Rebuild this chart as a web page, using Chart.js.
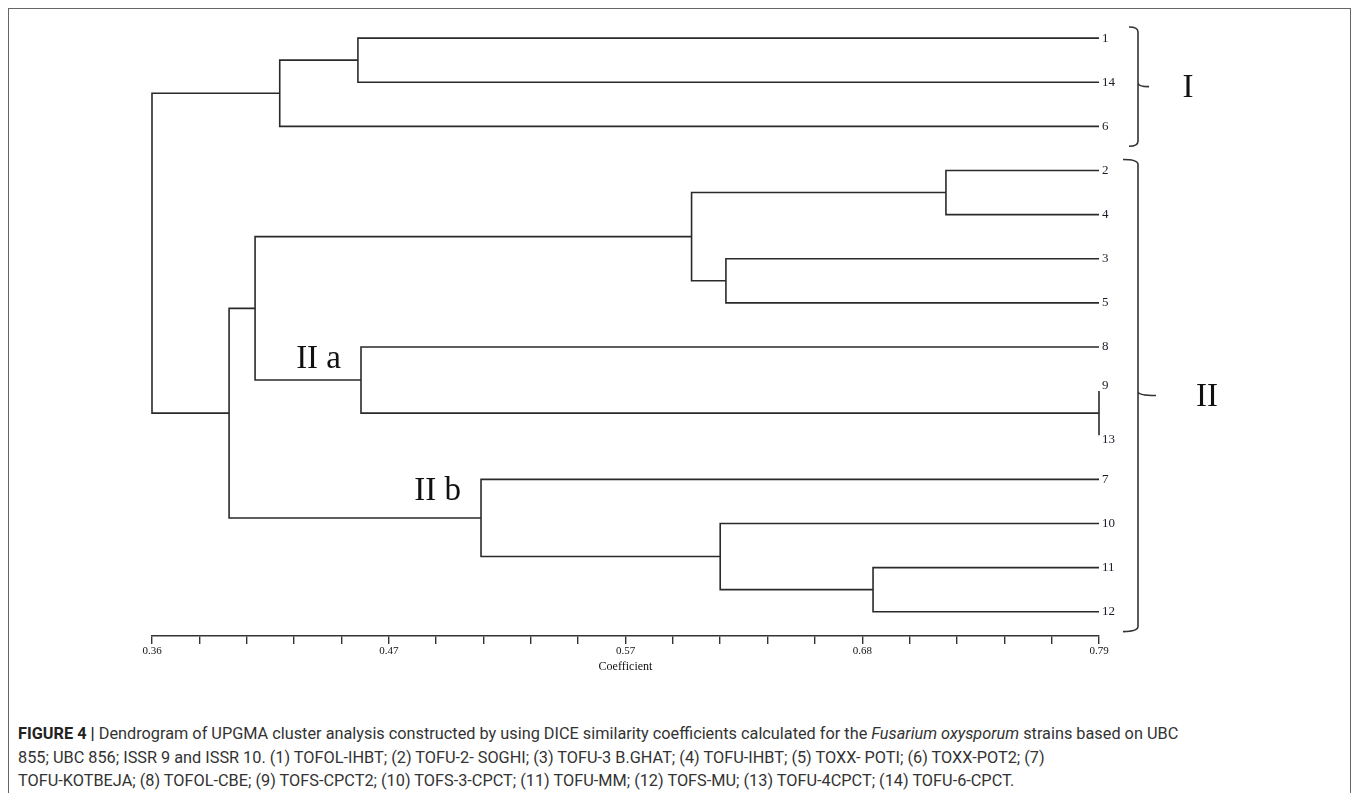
<!DOCTYPE html>
<html>
<head>
<meta charset="utf-8">
<script src="https://cdn.jsdelivr.net/npm/chart.js@4/dist/chart.umd.min.js"></script>
<style>
  html, body { margin: 0; padding: 0; background: #fff; }
  body { width: 1358px; height: 793px; position: relative; overflow: hidden; }
  #frame {
    position: absolute; left: 8px; top: 8px; width: 1341px; height: 820px;
    border: 1.5px solid #666; border-bottom: none;
  }
  #chartBox { position: absolute; left: 0; top: 0; width: 1358px; height: 700px; }
  #caption {
    position: absolute; left: 18px; top: 722px;
    font-family: Roboto, "Liberation Sans", sans-serif; font-size: 16.3px; line-height: 23.5px;
    color: #333; white-space: nowrap;
  }
  #caption b { color: #222; }
</style>
</head>
<body>
<div id="frame"></div>
<div id="chartBox"><canvas id="dendro" width="1358" height="700"></canvas></div>
<div id="caption">
<b>FIGURE 4 |</b> Dendrogram of UPGMA cluster analysis constructed by using DICE similarity coefficients calculated for the <i>Fusarium oxysporum</i> strains based on UBC<br>
855; UBC 856; ISSR 9 and ISSR 10. (1) TOFOL-IHBT; (2) TOFU-2- SOGHI; (3) TOFU-3 B.GHAT; (4) TOFU-IHBT; (5) TOXX- POTI; (6) TOXX-POT2; (7)<br>
TOFU-KOTBEJA; (8) TOFOL-CBE; (9) TOFS-CPCT2; (10) TOFS-3-CPCT; (11) TOFU-MM; (12) TOFS-MU; (13) TOFU-4CPCT; (14) TOFU-6-CPCT.
</div>
<script>
// leaves, top to bottom
var leafLabels = ['1', '14', '6', '2', '4', '3', '5', '8', '9', '13', '7', '10', '11', '12'];
var leafValue = 0.79;

// merges: ids 0-13 are leaves, merge k gets id 14 + k
var mergeLeft   = [0,      14,    3,      5,      16,    8,    7,      18,     12,     11,    10,     21,    15];
var mergeRight  = [1,      2,     4,      6,      17,    9,    19,     20,     13,     22,    23,     24,    25];
var mergeHeight = [0.4535, 0.418, 0.7205, 0.6206, 0.605, 0.79, 0.4549, 0.4068, 0.6874, 0.618, 0.5094, 0.395, 0.36];

// axis
var axisMin = 0.36, axisMax = 0.79;
var majorTicks = [0.36, 0.4675, 0.575, 0.6825, 0.79];
var tickLabels = ['0.36', '0.47', '0.57', '0.68', '0.79'];
var minorPerMajor = 5;

// clusters shown with brackets on the right
var groupNames = ['I', 'II'];
var groupFirst = [0, 3];
var groupLast  = [2, 13];

// sub-cluster labels next to their nodes (merge ids)
var subNames = ['II a', 'II b'];
var subNodes = [20, 24];

// position of every leaf / node
var nodeX = [], nodeY = [];
leafLabels.forEach(function(l, i) { nodeX[i] = leafValue; nodeY[i] = i; });
mergeHeight.forEach(function(h, k) {
    var id = 14 + k;
    nodeX[id] = h;
    nodeY[id] = (nodeY[mergeLeft[k]] + nodeY[mergeRight[k]]) / 2;
});

var lineColor = '#2a2a2a';
var datasets = mergeHeight.map(function(h, k) {
    var a = mergeLeft[k], b = mergeRight[k];
    return {
        data: [
            {x: nodeX[a], y: nodeY[a]},
            {x: h, y: nodeY[a]},
            {x: h, y: nodeY[b]},
            {x: nodeX[b], y: nodeY[b]}
        ],
        showLine: true,
        borderColor: lineColor,
        borderWidth: 1.6,
        pointRadius: 0,
        tension: 0,
        clip: false
    };
});

var dendroLabels = {
    id: 'dendroLabels',
    afterDatasetsDraw: function(chart) {
        var ctx = chart.ctx;
        var xs = chart.scales.x, ys = chart.scales.y;
        ctx.save();

        // leaf names
        ctx.fillStyle = '#1b1b2a';
        ctx.font = '13px "Liberation Serif", serif';
        ctx.textAlign = 'left';
        ctx.textBaseline = 'middle';
        var lx = xs.getPixelForValue(leafValue) + 3;
        leafLabels.forEach(function(l, i) {
            var dy = 0;
            if (l === '9') dy = -6;
            if (l === '13') dy = 4;
            ctx.fillText(l, lx, ys.getPixelForValue(i) + dy);
        });

        // brackets
        ctx.strokeStyle = '#333';
        ctx.lineWidth = 1.6;
        var bx = 1138;
        groupNames.forEach(function(name, g) {
            var top = ys.getPixelForValue(groupFirst[g] - 0.25);
            var bot = ys.getPixelForValue(groupLast[g] + 0.45);
            var mid = ys.getPixelForValue((groupFirst[g] + groupLast[g]) / 2 + 0.1);
            var hook = g === 0 ? 9 : 15;
            var tip = g === 0 ? 11 : 18;
            ctx.beginPath();
            ctx.moveTo(bx - hook, top);
            ctx.quadraticCurveTo(bx, top, bx, top + 5);
            ctx.lineTo(bx, mid - 4);
            ctx.quadraticCurveTo(bx, mid, bx + tip, mid);
            ctx.moveTo(bx, mid - 4);
            ctx.quadraticCurveTo(bx, mid, bx, mid + 4);
            ctx.lineTo(bx, bot - 5);
            ctx.quadraticCurveTo(bx, bot, bx - hook, bot);
            ctx.stroke();

            ctx.fillStyle = '#111';
            ctx.font = '33px "Liberation Serif", serif';
            ctx.textAlign = 'center';
            ctx.fillText(name, g === 0 ? 1188 : 1207, mid + 2);
        });

        // sub-cluster names
        ctx.font = '33px "Liberation Serif", serif';
        ctx.textAlign = 'right';
        subNames.forEach(function(name, s) {
            var id = subNodes[s];
            var k = id - 14;
            var topRow = Math.min(nodeY[mergeLeft[k]], nodeY[mergeRight[k]]);
            ctx.fillText(name, xs.getPixelForValue(nodeX[id]) - 20, ys.getPixelForValue(topRow) + 12);
        });
        ctx.restore();
    }
};

new Chart(document.getElementById('dendro').getContext('2d'), {
    type: 'scatter',
    data: { datasets: datasets },
    options: {
        responsive: false,
        animation: false,
        events: [],
        layout: { padding: { left: 152, right: 259, top: 20, bottom: 27 } },
        plugins: { legend: { display: false }, tooltip: { enabled: false } },
        scales: {
            x: {
                type: 'linear',
                min: axisMin,
                max: axisMax,
                afterBuildTicks: function(scale) {
                    var t = [];
                    for (var i = 0; i < majorTicks.length; i++) {
                        t.push({value: majorTicks[i]});
                        if (i < majorTicks.length - 1) {
                            var step = (majorTicks[i + 1] - majorTicks[i]) / minorPerMajor;
                            for (var j = 1; j < minorPerMajor; j++) t.push({value: majorTicks[i] + step * j});
                        }
                    }
                    scale.ticks = t;
                },
                ticks: {
                    autoSkip: false,
                    maxRotation: 0,
                    padding: 2,
                    color: '#111',
                    font: { family: '"Liberation Serif", serif', size: 11, lineHeight: 1 },
                    callback: function(value, index) {
                        return index % minorPerMajor === 0 ? tickLabels[index / minorPerMajor] : '';
                    }
                },
                grid: { drawOnChartArea: false, drawTicks: true, tickLength: 8, color: '#333', lineWidth: 1.4 },
                border: { display: true, color: '#333', width: 1.6 },
                title: {
                    display: true,
                    text: 'Coefficient',
                    color: '#111',
                    font: { family: '"Liberation Serif", serif', size: 12, lineHeight: 1 },
                    padding: { top: 2, bottom: 0 }
                }
            },
            y: {
                type: 'linear',
                display: false,
                reverse: true,
                min: -0.41,
                max: 13.55
            }
        }
    },
    plugins: [dendroLabels]
});
</script>
</body>
</html>
